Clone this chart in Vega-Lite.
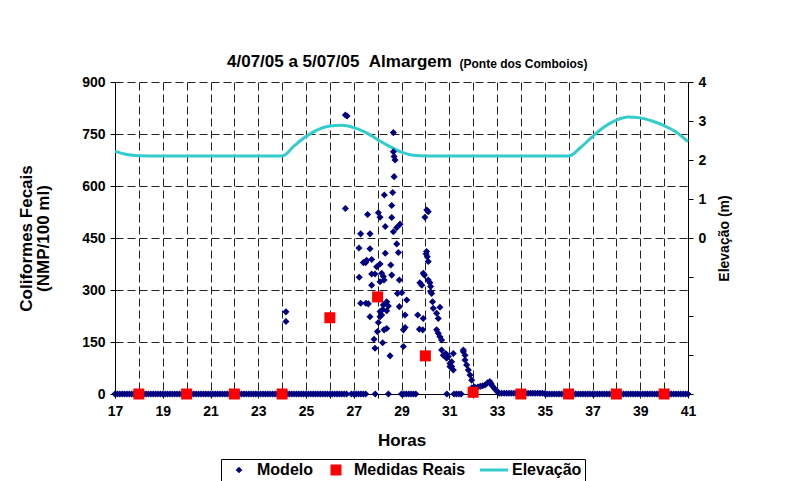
{
  "$schema": "https://vega.github.io/schema/vega-lite/v6.json",
  "width": 573,
  "height": 312,
  "autosize": "none",
  "padding": {"left": 115, "top": 82, "right": 103, "bottom": 87},
  "background": "white",
  "title": {
    "text": "4/07/05 a 5/07/05 \u00a0Almargem",
    "anchor": "start",
    "frame": "group",
    "dx": 112,
    "offset": -14,
    "font": "Liberation Sans",
    "fontSize": 17,
    "fontWeight": "bold",
    "color": "#000"
  },
  "datasets": {
    "elev": [
      {"hora":17,"valor":2.22,"serie":"Elevação"},
      {"hora":17.5,"valor":2.14,"serie":"Elevação"},
      {"hora":18,"valor":2.11,"serie":"Elevação"},
      {"hora":19,"valor":2.1,"serie":"Elevação"},
      {"hora":20,"valor":2.1,"serie":"Elevação"},
      {"hora":21,"valor":2.1,"serie":"Elevação"},
      {"hora":22,"valor":2.1,"serie":"Elevação"},
      {"hora":23,"valor":2.1,"serie":"Elevação"},
      {"hora":24,"valor":2.1,"serie":"Elevação"},
      {"hora":24.5,"valor":2.36,"serie":"Elevação"},
      {"hora":25,"valor":2.6,"serie":"Elevação"},
      {"hora":25.5,"valor":2.78,"serie":"Elevação"},
      {"hora":26,"valor":2.87,"serie":"Elevação"},
      {"hora":26.5,"valor":2.89,"serie":"Elevação"},
      {"hora":27,"valor":2.83,"serie":"Elevação"},
      {"hora":27.5,"valor":2.71,"serie":"Elevação"},
      {"hora":28,"valor":2.52,"serie":"Elevação"},
      {"hora":28.5,"valor":2.35,"serie":"Elevação"},
      {"hora":29,"valor":2.2,"serie":"Elevação"},
      {"hora":29.5,"valor":2.12,"serie":"Elevação"},
      {"hora":30,"valor":2.1,"serie":"Elevação"},
      {"hora":31,"valor":2.1,"serie":"Elevação"},
      {"hora":32,"valor":2.1,"serie":"Elevação"},
      {"hora":33,"valor":2.1,"serie":"Elevação"},
      {"hora":34,"valor":2.1,"serie":"Elevação"},
      {"hora":35,"valor":2.1,"serie":"Elevação"},
      {"hora":36,"valor":2.1,"serie":"Elevação"},
      {"hora":36.5,"valor":2.32,"serie":"Elevação"},
      {"hora":37,"valor":2.6,"serie":"Elevação"},
      {"hora":37.5,"valor":2.85,"serie":"Elevação"},
      {"hora":38,"valor":3.02,"serie":"Elevação"},
      {"hora":38.5,"valor":3.1,"serie":"Elevação"},
      {"hora":39,"valor":3.08,"serie":"Elevação"},
      {"hora":39.5,"valor":3.0,"serie":"Elevação"},
      {"hora":40,"valor":2.88,"serie":"Elevação"},
      {"hora":40.5,"valor":2.72,"serie":"Elevação"},
      {"hora":41,"valor":2.47,"serie":"Elevação"}
    ],
    "medidas": [
      {"hora":18,"valor":0,"serie":"Medidas Reais"},
      {"hora":20,"valor":0,"serie":"Medidas Reais"},
      {"hora":22,"valor":0,"serie":"Medidas Reais"},
      {"hora":24,"valor":0,"serie":"Medidas Reais"},
      {"hora":26,"valor":220,"serie":"Medidas Reais"},
      {"hora":28,"valor":280,"serie":"Medidas Reais"},
      {"hora":30,"valor":110,"serie":"Medidas Reais"},
      {"hora":32,"valor":5,"serie":"Medidas Reais"},
      {"hora":34,"valor":0,"serie":"Medidas Reais"},
      {"hora":36,"valor":0,"serie":"Medidas Reais"},
      {"hora":38,"valor":0,"serie":"Medidas Reais"},
      {"hora":40,"valor":0,"serie":"Medidas Reais"}
    ],
    "modelo": [
      {"hora":17,"valor":0,"serie":"Modelo"},{"hora":17.1,"valor":0,"serie":"Modelo"},{"hora":17.2,"valor":0,"serie":"Modelo"},{"hora":17.3,"valor":0,"serie":"Modelo"},{"hora":17.4,"valor":0,"serie":"Modelo"},{"hora":17.5,"valor":0,"serie":"Modelo"},{"hora":17.6,"valor":0,"serie":"Modelo"},{"hora":17.7,"valor":0,"serie":"Modelo"},{"hora":17.8,"valor":0,"serie":"Modelo"},{"hora":17.9,"valor":0,"serie":"Modelo"},
      {"hora":18,"valor":0,"serie":"Modelo"},{"hora":18.1,"valor":0,"serie":"Modelo"},{"hora":18.2,"valor":0,"serie":"Modelo"},{"hora":18.3,"valor":0,"serie":"Modelo"},{"hora":18.4,"valor":0,"serie":"Modelo"},{"hora":18.5,"valor":0,"serie":"Modelo"},{"hora":18.6,"valor":0,"serie":"Modelo"},{"hora":18.7,"valor":0,"serie":"Modelo"},{"hora":18.8,"valor":0,"serie":"Modelo"},{"hora":18.9,"valor":0,"serie":"Modelo"},
      {"hora":19,"valor":0,"serie":"Modelo"},{"hora":19.1,"valor":0,"serie":"Modelo"},{"hora":19.2,"valor":0,"serie":"Modelo"},{"hora":19.3,"valor":0,"serie":"Modelo"},{"hora":19.4,"valor":0,"serie":"Modelo"},{"hora":19.5,"valor":0,"serie":"Modelo"},{"hora":19.6,"valor":0,"serie":"Modelo"},{"hora":19.7,"valor":0,"serie":"Modelo"},{"hora":19.8,"valor":0,"serie":"Modelo"},{"hora":19.9,"valor":0,"serie":"Modelo"},
      {"hora":20,"valor":0,"serie":"Modelo"},{"hora":20.1,"valor":0,"serie":"Modelo"},{"hora":20.2,"valor":0,"serie":"Modelo"},{"hora":20.3,"valor":0,"serie":"Modelo"},{"hora":20.4,"valor":0,"serie":"Modelo"},{"hora":20.5,"valor":0,"serie":"Modelo"},{"hora":20.6,"valor":0,"serie":"Modelo"},{"hora":20.7,"valor":0,"serie":"Modelo"},{"hora":20.8,"valor":0,"serie":"Modelo"},{"hora":20.9,"valor":0,"serie":"Modelo"},
      {"hora":21,"valor":0,"serie":"Modelo"},{"hora":21.1,"valor":0,"serie":"Modelo"},{"hora":21.2,"valor":0,"serie":"Modelo"},{"hora":21.3,"valor":0,"serie":"Modelo"},{"hora":21.4,"valor":0,"serie":"Modelo"},{"hora":21.5,"valor":0,"serie":"Modelo"},{"hora":21.6,"valor":0,"serie":"Modelo"},{"hora":21.7,"valor":0,"serie":"Modelo"},{"hora":21.8,"valor":0,"serie":"Modelo"},{"hora":21.9,"valor":0,"serie":"Modelo"},
      {"hora":22,"valor":0,"serie":"Modelo"},{"hora":22.1,"valor":0,"serie":"Modelo"},{"hora":22.2,"valor":0,"serie":"Modelo"},{"hora":22.3,"valor":0,"serie":"Modelo"},{"hora":22.4,"valor":0,"serie":"Modelo"},{"hora":22.5,"valor":0,"serie":"Modelo"},{"hora":22.6,"valor":0,"serie":"Modelo"},{"hora":22.7,"valor":0,"serie":"Modelo"},{"hora":22.8,"valor":0,"serie":"Modelo"},{"hora":22.9,"valor":0,"serie":"Modelo"},
      {"hora":23,"valor":0,"serie":"Modelo"},{"hora":23.1,"valor":0,"serie":"Modelo"},{"hora":23.2,"valor":0,"serie":"Modelo"},{"hora":23.3,"valor":0,"serie":"Modelo"},{"hora":23.4,"valor":0,"serie":"Modelo"},{"hora":23.5,"valor":0,"serie":"Modelo"},{"hora":23.6,"valor":0,"serie":"Modelo"},{"hora":23.7,"valor":0,"serie":"Modelo"},{"hora":23.8,"valor":0,"serie":"Modelo"},{"hora":23.9,"valor":0,"serie":"Modelo"},
      {"hora":24,"valor":0,"serie":"Modelo"},{"hora":24.1,"valor":0,"serie":"Modelo"},{"hora":24.2,"valor":0,"serie":"Modelo"},{"hora":24.3,"valor":0,"serie":"Modelo"},{"hora":24.4,"valor":0,"serie":"Modelo"},{"hora":24.5,"valor":0,"serie":"Modelo"},{"hora":24.6,"valor":0,"serie":"Modelo"},{"hora":24.7,"valor":0,"serie":"Modelo"},{"hora":24.8,"valor":0,"serie":"Modelo"},{"hora":24.9,"valor":0,"serie":"Modelo"},
      {"hora":25,"valor":0,"serie":"Modelo"},{"hora":25.1,"valor":0,"serie":"Modelo"},{"hora":25.2,"valor":0,"serie":"Modelo"},{"hora":25.3,"valor":0,"serie":"Modelo"},{"hora":25.4,"valor":0,"serie":"Modelo"},{"hora":25.5,"valor":0,"serie":"Modelo"},{"hora":25.6,"valor":0,"serie":"Modelo"},{"hora":25.7,"valor":0,"serie":"Modelo"},{"hora":25.8,"valor":0,"serie":"Modelo"},{"hora":25.9,"valor":0,"serie":"Modelo"},
      {"hora":26,"valor":0,"serie":"Modelo"},{"hora":26.1,"valor":0,"serie":"Modelo"},{"hora":26.2,"valor":0,"serie":"Modelo"},{"hora":26.3,"valor":0,"serie":"Modelo"},{"hora":26.4,"valor":0,"serie":"Modelo"},{"hora":26.5,"valor":0,"serie":"Modelo"},{"hora":26.6,"valor":0,"serie":"Modelo"},{"hora":26.7,"valor":0,"serie":"Modelo"},
      {"hora":26.9,"valor":0,"serie":"Modelo"},{"hora":27,"valor":0,"serie":"Modelo"},{"hora":27.1,"valor":0,"serie":"Modelo"},{"hora":27.2,"valor":0,"serie":"Modelo"},{"hora":27.3,"valor":0,"serie":"Modelo"},{"hora":27.4,"valor":0,"serie":"Modelo"},{"hora":27.5,"valor":0,"serie":"Modelo"},{"hora":27.9,"valor":0,"serie":"Modelo"},{"hora":28.45,"valor":0,"serie":"Modelo"},
      {"hora":29,"valor":0,"serie":"Modelo"},{"hora":29.1,"valor":0,"serie":"Modelo"},{"hora":29.2,"valor":0,"serie":"Modelo"},{"hora":29.3,"valor":0,"serie":"Modelo"},{"hora":29.4,"valor":0,"serie":"Modelo"},{"hora":29.5,"valor":0,"serie":"Modelo"},{"hora":29.6,"valor":0,"serie":"Modelo"},
      {"hora":30.9,"valor":0,"serie":"Modelo"},{"hora":31.2,"valor":0,"serie":"Modelo"},{"hora":31.3,"valor":0,"serie":"Modelo"},{"hora":31.4,"valor":0,"serie":"Modelo"},{"hora":31.5,"valor":0,"serie":"Modelo"},
      {"hora":24.16,"valor":237,"serie":"Modelo"},{"hora":24.16,"valor":209,"serie":"Modelo"},
      {"hora":26.65,"valor":805,"serie":"Modelo"},{"hora":26.72,"valor":802,"serie":"Modelo"},{"hora":26.65,"valor":535,"serie":"Modelo"},
      {"hora":28.66,"valor":754,"serie":"Modelo"},{"hora":28.66,"valor":699,"serie":"Modelo"},{"hora":28.69,"valor":685,"serie":"Modelo"},{"hora":28.73,"valor":675,"serie":"Modelo"},{"hora":28.69,"valor":627,"serie":"Modelo"},
      {"hora":28.63,"valor":581,"serie":"Modelo"},{"hora":28.28,"valor":574,"serie":"Modelo"},{"hora":28.59,"valor":544,"serie":"Modelo"},{"hora":28.03,"valor":523,"serie":"Modelo"},{"hora":28.1,"valor":510,"serie":"Modelo"},
      {"hora":27.58,"valor":518,"serie":"Modelo"},{"hora":28.59,"valor":509,"serie":"Modelo"},{"hora":28.32,"valor":483,"serie":"Modelo"},{"hora":28.94,"valor":490,"serie":"Modelo"},{"hora":28.8,"valor":480,"serie":"Modelo"},
      {"hora":28.66,"valor":468,"serie":"Modelo"},{"hora":28.8,"valor":433,"serie":"Modelo"},{"hora":28.87,"valor":408,"serie":"Modelo"},{"hora":27.29,"valor":462,"serie":"Modelo"},{"hora":27.68,"valor":462,"serie":"Modelo"},
      {"hora":27.22,"valor":421,"serie":"Modelo"},{"hora":27.68,"valor":419,"serie":"Modelo"},{"hora":28.32,"valor":406,"serie":"Modelo"},{"hora":27.4,"valor":379,"serie":"Modelo"},{"hora":27.54,"valor":386,"serie":"Modelo"},
      {"hora":27.75,"valor":388,"serie":"Modelo"},{"hora":27.5,"valor":379,"serie":"Modelo"},{"hora":27.96,"valor":367,"serie":"Modelo"},{"hora":28.1,"valor":375,"serie":"Modelo"},{"hora":28.55,"valor":372,"serie":"Modelo"},
      {"hora":27.75,"valor":346,"serie":"Modelo"},{"hora":27.89,"valor":346,"serie":"Modelo"},{"hora":28.17,"valor":348,"serie":"Modelo"},{"hora":28.24,"valor":339,"serie":"Modelo"},{"hora":28.1,"valor":324,"serie":"Modelo"},
      {"hora":28.27,"valor":329,"serie":"Modelo"},{"hora":28.59,"valor":343,"serie":"Modelo"},{"hora":27.23,"valor":337,"serie":"Modelo"},{"hora":27.75,"valor":314,"serie":"Modelo"},{"hora":28.91,"valor":329,"serie":"Modelo"},
      {"hora":28.83,"valor":290,"serie":"Modelo"},{"hora":29.01,"valor":292,"serie":"Modelo"},{"hora":29.22,"valor":271,"serie":"Modelo"},{"hora":27.29,"valor":262,"serie":"Modelo"},{"hora":27.51,"valor":262,"serie":"Modelo"},
      {"hora":27.61,"valor":260,"serie":"Modelo"},{"hora":28.38,"valor":266,"serie":"Modelo"},{"hora":28.24,"valor":257,"serie":"Modelo"},{"hora":28.91,"valor":252,"serie":"Modelo"},{"hora":28.1,"valor":238,"serie":"Modelo"},
      {"hora":28.21,"valor":244,"serie":"Modelo"},{"hora":28.38,"valor":240,"serie":"Modelo"},{"hora":28.45,"valor":254,"serie":"Modelo"},{"hora":27.68,"valor":223,"serie":"Modelo"},{"hora":28.1,"valor":223,"serie":"Modelo"},
      {"hora":28.17,"valor":228,"serie":"Modelo"},{"hora":29.15,"valor":228,"serie":"Modelo"},{"hora":28.03,"valor":206,"serie":"Modelo"},{"hora":28.38,"valor":189,"serie":"Modelo"},{"hora":28.27,"valor":185,"serie":"Modelo"},
      {"hora":29.15,"valor":192,"serie":"Modelo"},{"hora":29.08,"valor":185,"serie":"Modelo"},{"hora":27.99,"valor":180,"serie":"Modelo"},{"hora":27.85,"valor":158,"serie":"Modelo"},{"hora":28.21,"valor":148,"serie":"Modelo"},
      {"hora":27.89,"valor":132,"serie":"Modelo"},{"hora":29.08,"valor":137,"serie":"Modelo"},{"hora":28.52,"valor":110,"serie":"Modelo"},
      {"hora":30.06,"valor":531,"serie":"Modelo"},{"hora":30.12,"valor":526,"serie":"Modelo"},{"hora":29.98,"valor":510,"serie":"Modelo"},{"hora":30.05,"valor":411,"serie":"Modelo"},{"hora":30.03,"valor":404,"serie":"Modelo"},
      {"hora":30.08,"valor":396,"serie":"Modelo"},{"hora":30.12,"valor":382,"serie":"Modelo"},{"hora":29.91,"valor":348,"serie":"Modelo"},{"hora":29.96,"valor":343,"serie":"Modelo"},{"hora":29.77,"valor":321,"serie":"Modelo"},
      {"hora":29.85,"valor":314,"serie":"Modelo"},{"hora":30.12,"valor":329,"serie":"Modelo"},{"hora":30.19,"valor":321,"serie":"Modelo"},{"hora":30.22,"valor":310,"serie":"Modelo"},{"hora":30.26,"valor":290,"serie":"Modelo"},
      {"hora":30.22,"valor":295,"serie":"Modelo"},{"hora":30.3,"valor":266,"serie":"Modelo"},{"hora":29.68,"valor":228,"serie":"Modelo"},{"hora":29.91,"valor":218,"serie":"Modelo"},{"hora":30.33,"valor":247,"serie":"Modelo"},
      {"hora":30.47,"valor":233,"serie":"Modelo"},{"hora":30.61,"valor":250,"serie":"Modelo"},{"hora":30.54,"valor":218,"serie":"Modelo"},{"hora":29.75,"valor":187,"serie":"Modelo"},{"hora":29.89,"valor":185,"serie":"Modelo"},
      {"hora":30.47,"valor":185,"serie":"Modelo"},{"hora":30.54,"valor":175,"serie":"Modelo"},{"hora":30.61,"valor":165,"serie":"Modelo"},{"hora":30.68,"valor":156,"serie":"Modelo"},{"hora":30.68,"valor":127,"serie":"Modelo"},
      {"hora":30.75,"valor":112,"serie":"Modelo"},{"hora":30.89,"valor":103,"serie":"Modelo"},{"hora":31.03,"valor":88,"serie":"Modelo"},{"hora":31.1,"valor":79,"serie":"Modelo"},{"hora":31.17,"valor":69,"serie":"Modelo"},
      {"hora":30.85,"valor":117,"serie":"Modelo"},{"hora":30.96,"valor":108,"serie":"Modelo"},{"hora":31.1,"valor":93,"serie":"Modelo"},{"hora":31.17,"valor":117,"serie":"Modelo"},{"hora":31.03,"valor":79,"serie":"Modelo"},
      {"hora":31.59,"valor":122,"serie":"Modelo"},{"hora":31.59,"valor":127,"serie":"Modelo"},{"hora":31.66,"valor":98,"serie":"Modelo"},{"hora":31.66,"valor":112,"serie":"Modelo"},{"hora":31.73,"valor":84,"serie":"Modelo"},
      {"hora":31.8,"valor":69,"serie":"Modelo"},{"hora":31.87,"valor":55,"serie":"Modelo"},{"hora":31.94,"valor":40,"serie":"Modelo"},
      {"hora":31.95,"valor":18,"serie":"Modelo"},{"hora":32.05,"valor":20,"serie":"Modelo"},{"hora":32.1,"valor":18,"serie":"Modelo"},{"hora":32.2,"valor":20,"serie":"Modelo"},{"hora":32.3,"valor":22,"serie":"Modelo"},
      {"hora":32.4,"valor":24,"serie":"Modelo"},{"hora":32.5,"valor":26,"serie":"Modelo"},{"hora":32.6,"valor":32,"serie":"Modelo"},{"hora":32.7,"valor":36,"serie":"Modelo"},{"hora":32.75,"valor":30,"serie":"Modelo"},
      {"hora":32.8,"valor":24,"serie":"Modelo"},{"hora":32.9,"valor":15,"serie":"Modelo"},{"hora":33,"valor":8,"serie":"Modelo"},{"hora":33.05,"valor":4,"serie":"Modelo"},
      {"hora":33.1,"valor":2,"serie":"Modelo"},{"hora":33.2,"valor":2,"serie":"Modelo"},{"hora":33.3,"valor":2,"serie":"Modelo"},{"hora":33.4,"valor":2,"serie":"Modelo"},{"hora":33.5,"valor":2,"serie":"Modelo"},{"hora":33.6,"valor":2,"serie":"Modelo"},{"hora":33.7,"valor":2,"serie":"Modelo"},{"hora":33.8,"valor":2,"serie":"Modelo"},{"hora":33.9,"valor":2,"serie":"Modelo"},
      {"hora":34,"valor":2,"serie":"Modelo"},{"hora":34.1,"valor":2,"serie":"Modelo"},{"hora":34.2,"valor":2,"serie":"Modelo"},{"hora":34.3,"valor":2,"serie":"Modelo"},{"hora":34.4,"valor":2,"serie":"Modelo"},{"hora":34.5,"valor":2,"serie":"Modelo"},{"hora":34.6,"valor":2,"serie":"Modelo"},{"hora":34.7,"valor":2,"serie":"Modelo"},{"hora":34.8,"valor":2,"serie":"Modelo"},{"hora":34.9,"valor":2,"serie":"Modelo"},
      {"hora":35,"valor":1,"serie":"Modelo"},{"hora":35.1,"valor":0,"serie":"Modelo"},{"hora":35.2,"valor":0,"serie":"Modelo"},{"hora":35.3,"valor":0,"serie":"Modelo"},{"hora":35.4,"valor":0,"serie":"Modelo"},{"hora":35.5,"valor":0,"serie":"Modelo"},{"hora":35.6,"valor":0,"serie":"Modelo"},{"hora":35.7,"valor":0,"serie":"Modelo"},{"hora":35.8,"valor":0,"serie":"Modelo"},{"hora":35.9,"valor":0,"serie":"Modelo"},
      {"hora":36,"valor":0,"serie":"Modelo"},{"hora":36.1,"valor":0,"serie":"Modelo"},{"hora":36.2,"valor":0,"serie":"Modelo"},{"hora":36.3,"valor":0,"serie":"Modelo"},{"hora":36.4,"valor":0,"serie":"Modelo"},{"hora":36.5,"valor":0,"serie":"Modelo"},{"hora":36.6,"valor":0,"serie":"Modelo"},{"hora":36.7,"valor":0,"serie":"Modelo"},{"hora":36.8,"valor":0,"serie":"Modelo"},{"hora":36.9,"valor":0,"serie":"Modelo"},
      {"hora":37,"valor":0,"serie":"Modelo"},{"hora":37.1,"valor":0,"serie":"Modelo"},{"hora":37.2,"valor":0,"serie":"Modelo"},{"hora":37.3,"valor":0,"serie":"Modelo"},{"hora":37.4,"valor":0,"serie":"Modelo"},{"hora":37.5,"valor":0,"serie":"Modelo"},{"hora":37.6,"valor":0,"serie":"Modelo"},{"hora":37.7,"valor":0,"serie":"Modelo"},{"hora":37.8,"valor":0,"serie":"Modelo"},{"hora":37.9,"valor":0,"serie":"Modelo"},
      {"hora":38,"valor":0,"serie":"Modelo"},{"hora":38.1,"valor":0,"serie":"Modelo"},{"hora":38.2,"valor":0,"serie":"Modelo"},{"hora":38.3,"valor":0,"serie":"Modelo"},{"hora":38.4,"valor":0,"serie":"Modelo"},{"hora":38.5,"valor":0,"serie":"Modelo"},{"hora":38.6,"valor":0,"serie":"Modelo"},{"hora":38.7,"valor":0,"serie":"Modelo"},{"hora":38.8,"valor":0,"serie":"Modelo"},{"hora":38.9,"valor":0,"serie":"Modelo"},
      {"hora":39,"valor":0,"serie":"Modelo"},{"hora":39.1,"valor":0,"serie":"Modelo"},{"hora":39.2,"valor":0,"serie":"Modelo"},{"hora":39.3,"valor":0,"serie":"Modelo"},{"hora":39.4,"valor":0,"serie":"Modelo"},{"hora":39.5,"valor":0,"serie":"Modelo"},{"hora":39.6,"valor":0,"serie":"Modelo"},{"hora":39.7,"valor":0,"serie":"Modelo"},{"hora":39.8,"valor":0,"serie":"Modelo"},{"hora":39.9,"valor":0,"serie":"Modelo"},
      {"hora":40,"valor":0,"serie":"Modelo"},{"hora":40.1,"valor":0,"serie":"Modelo"},{"hora":40.2,"valor":0,"serie":"Modelo"},{"hora":40.3,"valor":0,"serie":"Modelo"},{"hora":40.4,"valor":0,"serie":"Modelo"},{"hora":40.5,"valor":0,"serie":"Modelo"},{"hora":40.6,"valor":0,"serie":"Modelo"},{"hora":40.7,"valor":0,"serie":"Modelo"},{"hora":40.8,"valor":0,"serie":"Modelo"},{"hora":40.9,"valor":0,"serie":"Modelo"},
      {"hora":41,"valor":0,"serie":"Modelo"}
    ]
  },
  "encoding": {
    "x": {
      "field": "hora", "type": "quantitative",
      "scale": {"domain": [17, 41], "nice": false, "zero": false},
      "axis": {
        "orient": "bottom",
        "values": [17,18,19,20,21,22,23,24,25,26,27,28,29,30,31,32,33,34,35,36,37,38,39,40,41],
        "labelExpr": "datum.value % 2 === 1 ? datum.label : ''",
        "title": "Horas",
        "grid": true,
        "tickSize": 4,
        "labelPadding": 6,
        "titlePadding": 14,
        "labelFlush": false,
        "labelOverlap": false
      }
    },
    "color": {
      "field": "serie", "type": "nominal",
      "scale": {"domain": ["Modelo", "Medidas Reais", "Elevação"], "range": ["#000080", "#FF0000", "#33CCCC"]},
      "legend": {
        "title": null,
        "orient": "none",
        "legendX": 106,
        "legendY": 377,
        "direction": "horizontal",
        "strokeColor": "#000",
        "padding": 3,
        "labelFont": "Liberation Sans",
        "labelFontSize": 16,
        "labelFontWeight": "bold",
        "labelColor": "#000",
        "columnPadding": 8,
        "encode": {
          "symbols": {
            "update": {
              "x": {"value": 15},
              "shape": {"signal": "scale('shape', datum.value)"},
              "fill": {"signal": "datum.value === 'Elevação' ? 'transparent' : scale('color', datum.value)"},
              "stroke": {"signal": "scale('color', datum.value)"},
              "strokeWidth": {"signal": "(datum.value === 'Elevação' ? 3 : 0)"},
              "size": {"signal": "(datum.value === 'Elevação' ? 784 : (datum.value === 'Modelo' ? 45 : 121))"},
              "opacity": {"value": 1}
            }
          },
          "labels": {
            "update": {
              "x": {"value": 33}
            }
          }
        }
      }
    }
  },
  "layer": [
    {
      "data": {"name": "elev"},
      "mark": {"type": "line", "interpolate": "monotone", "strokeWidth": 3},
      "encoding": {
        "x": {
          "field": "hora", "type": "quantitative",
          "scale": {"domain": [17, 41], "nice": false, "zero": false},
          "axis": {
            "orient": "top",
            "labels": false,
            "ticks": false,
            "domain": false,
            "grid": false,
            "title": "(Ponte dos Comboios)",
            "titleFontSize": 12,
            "titleAlign": "center",
            "titleBaseline": "alphabetic",
            "titleAnchor": null,
            "titleX": 408,
            "titleY": -15
          }
        },
        "y": {
          "field": "valor", "type": "quantitative",
          "scale": {"domain": [-4, 4], "nice": false, "zero": false},
          "axis": {
            "orient": "right",
            "values": [-4,-3,-2,-1,0,1,2,3,4],
            "labelExpr": "datum.value >= 0 ? datum.label : ''",
            "title": "Elevação (m)",
            "titleAngle": 270,
            "titleFontSize": 14,
            "titlePadding": 26,
            "grid": false,
            "tickSize": 5,
            "labelPadding": 5
          }
        }
      }
    },
    {
      "encoding": {
        "y": {
          "field": "valor", "type": "quantitative",
          "scale": {"domain": [0, 900], "nice": false},
          "axis": {
            "orient": "left",
            "values": [0,150,300,450,600,750,900],
            "title": ["Coliformes Fecais", "(NMP/100 ml)"],
            "titleLineHeight": 17,
            "titlePadding": 29,
            "grid": true,
            "tickSize": 5,
            "labelPadding": 5
          }
        },
        "shape": {
          "field": "serie", "type": "nominal",
          "scale": {"domain": ["Modelo", "Medidas Reais", "Elevação"], "range": ["diamond", "square", "stroke"]},
          "legend": null
        }
      },
      "layer": [
        {
          "data": {"name": "modelo"},
          "mark": {"type": "point", "filled": true, "opacity": 1, "size": 50, "strokeWidth": 0}
        },
        {
          "data": {"name": "medidas"},
          "mark": {"type": "point", "filled": true, "opacity": 1, "size": 121, "strokeWidth": 0}
        }
      ]
    }
  ],
  "resolve": {"scale": {"y": "independent"}, "axis": {"y": "independent", "x": "independent"}},
  "config": {
    "view": {"stroke": null},
    "font": "Liberation Sans",
    "axis": {
      "labelFont": "Liberation Sans",
      "labelFontSize": 14,
      "labelFontWeight": "bold",
      "labelColor": "#000",
      "labelAngle": 0,
      "titleFont": "Liberation Sans",
      "titleFontSize": 17,
      "titleFontWeight": "bold",
      "titleColor": "#000",
      "domainColor": "#000",
      "domainWidth": 1,
      "tickColor": "#000",
      "gridColor": "#222",
      "gridDash": [8, 4],
      "gridOpacity": 1,
      "gridWidth": 1
    }
  }
}
